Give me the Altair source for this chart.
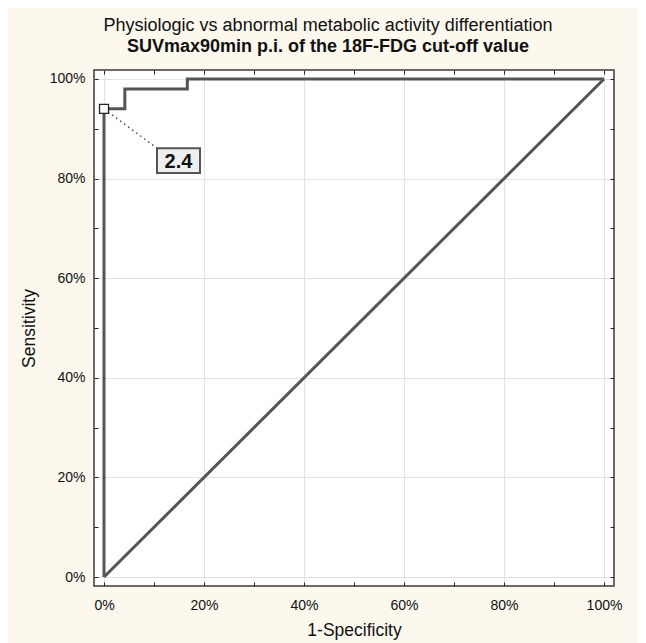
import altair as alt
import pandas as pd

# ROC curve (1-Specificity vs Sensitivity)
roc_fpr = [0.0, 0.0, 1/24, 1/24, 4/24, 4/24, 1.0]
roc_tpr = [0.0, 0.94, 0.94, 0.98, 0.98, 1.0, 1.0]
# reference diagonal
diag_fpr = [0.0, 1.0]
diag_tpr = [0.0, 1.0]
# cut-off point
cut_fpr = [0.0]
cut_tpr = [0.94]
cut_label = ["2.4"]
# label box (data space) and connector end
box_x = [0.106]
box_x2 = [0.192]
box_y = [0.811]
box_y2 = [0.861]
# ticks
major_ticks = [0.0, 0.2, 0.4, 0.6, 0.8, 1.0]
minor_ticks = [0.0, 0.1, 0.2, 0.3, 0.4, 0.5, 0.6, 0.7, 0.8, 0.9, 1.0]

FONT = "Liberation Sans"
LINE = "#555555"
W, H = 520, 516

roc = pd.DataFrame({"x": roc_fpr, "y": roc_tpr, "o": range(len(roc_fpr))})
diag = pd.DataFrame({"x": diag_fpr, "y": diag_tpr})
cut = pd.DataFrame({"x": cut_fpr, "y": cut_tpr, "label": cut_label})
box = pd.DataFrame({"x": box_x, "x2": box_x2, "y": box_y, "y2": box_y2,
                    "cx": [(a + b) / 2 for a, b in zip(box_x, box_x2)],
                    "cy": [(a + b) / 2 for a, b in zip(box_y, box_y2)],
                    "label": cut_label})
conn = pd.DataFrame({"x": [cut_fpr[0], box_x[0]], "y": [cut_tpr[0], box_y2[0]]})

xs = alt.Scale(domain=[-0.02, 1.02], nice=False, zero=False)
ys = alt.Scale(domain=[-0.018, 1.018], nice=False, zero=False)

x_main = alt.Axis(orient="bottom", values=major_ticks, format=".0%", grid=True,
                  gridColor="#e2e2e2", gridWidth=1, ticks=False, domain=False,
                  labelPadding=12, labelFontSize=14, labelColor="#111", labelFont=FONT,
                  title="1-Specificity", titleFontSize=17.5, titleFontWeight="normal",
                  titleFont=FONT, titleColor="#111", titlePadding=9)
y_main = alt.Axis(orient="left", values=major_ticks, format=".0%", grid=True,
                  gridColor="#e2e2e2", gridWidth=1, ticks=False, domain=False,
                  labelPadding=9, labelFontSize=14, labelColor="#111", labelFont=FONT,
                  title="Sensitivity", titleFontSize=17.5, titleFontWeight="normal",
                  titleFont=FONT, titleColor="#111", titlePadding=11)


def tick_axis(orient):
    return alt.Axis(orient=orient, values=minor_ticks, labels=False, grid=False,
                    domain=False, ticks=True, tickSize=4, offset=-4,
                    tickColor="#222", tickWidth=1, title=None)


def X(field):
    return alt.X(field, scale=xs, axis=None)


def Y(field):
    return alt.Y(field, scale=ys, axis=None)


base = alt.Chart(diag).mark_line(color=LINE, strokeWidth=3).encode(
    x=alt.X("x:Q", scale=xs, axis=x_main),
    y=alt.Y("y:Q", scale=ys, axis=y_main),
)

ticks_bl = alt.Chart(diag).mark_line(opacity=0).encode(
    x=alt.X("x:Q", scale=xs, axis=tick_axis("bottom")),
    y=alt.Y("y:Q", scale=ys, axis=tick_axis("left")),
)
ticks_tr = alt.Chart(diag).mark_line(opacity=0).encode(
    x=alt.X("x:Q", scale=xs, axis=tick_axis("top")),
    y=alt.Y("y:Q", scale=ys, axis=tick_axis("right")),
)

roc_line = alt.Chart(roc).mark_line(color=LINE, strokeWidth=3, interpolate="linear").encode(
    x=X("x:Q"), y=Y("y:Q"), order="o:Q")

connector = alt.Chart(conn).mark_line(color="#333", strokeWidth=1.3, strokeDash=[1.5, 3.5]).encode(
    x=X("x:Q"), y=Y("y:Q"))

marker = alt.Chart(cut).mark_point(shape="square", size=81, filled=True, fill="white",
                                   stroke="#222", strokeWidth=1.3, opacity=1).encode(
    x=X("x:Q"), y=Y("y:Q"))

box_rect = alt.Chart(box).mark_rect(fill="#eeeeee", stroke="#555", strokeWidth=2).encode(
    x=X("x:Q"), x2="x2:Q", y=Y("y:Q"), y2="y2:Q")

box_text = alt.Chart(box).mark_text(font=FONT, fontSize=20, fontWeight="bold", color="#111",
                                    baseline="middle", align="center", dy=1).encode(
    x=X("cx:Q"), y=Y("cy:Q"), text="label:N")

chart = alt.layer(base, ticks_bl, ticks_tr, roc_line, connector, marker, box_rect, box_text).resolve_axis(
    x="independent", y="independent"
).properties(
    width=W, height=H,
    autosize=alt.AutoSizeParams(type="none"),
    padding={"left": 86, "top": 62, "right": 24, "bottom": 57},
    background="#FCF8EE",
    title=alt.Title(
        text="Physiologic vs abnormal metabolic activity differentiation",
        subtitle="SUVmax90min p.i. of the 18F-FDG cut-off value",
        font=FONT, fontSize=18, fontWeight="normal", color="#111",
        subtitleFont=FONT, subtitleFontSize=18, subtitleFontWeight="bold",
        subtitleColor="#111", subtitlePadding=3, anchor="middle", offset=14, dx=-26,
    ),
).configure_view(stroke="#3a3a3a", strokeWidth=1.5, fill="white")

chart.save("out.html", embed_options={"renderer": "svg", "actions": False})
